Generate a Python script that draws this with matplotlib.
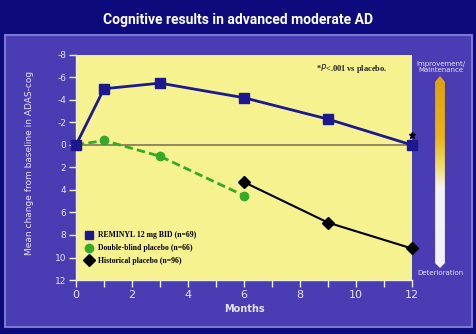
import matplotlib.pyplot as plt
import numpy as np
from matplotlib.patches import Rectangle, Polygon
from matplotlib.lines import Line2D
from matplotlib.colors import LinearSegmentedColormap

# data (months, mean change in ADAS-cog)
reminyl_x = [0, 1, 3, 6, 9, 12]
reminyl_y = [0, -5.0, -5.5, -4.2, -2.3, 0]
dbl_x = [0, 1, 3, 6]
dbl_y = [0, -0.4, 1.0, 4.5]
hist_x = [6, 9, 12]
hist_y = [3.3, 6.9, 9.2]
legend_labels = ['REMINYL 12 mg BID (n=69)', 'Double-blind placebo (n=66)',
                 'Historical placebo (n=96)']
y_ticks = [-8, -6, -4, -2, 0, 2, 4, 6, 8, 10, 12]
x_ticks = [0, 2, 4, 6, 8, 10, 12]

navy = '#0d0b7c'
panel = '#4a3db4'
yellow = '#f7f290'
txt = '#e6e2f6'

W, H = 476, 334
fig = plt.figure(figsize=(W / 100, H / 100), dpi=100)
fig.patch.set_facecolor(navy)


def fx(px):
    return px / W


def fy(py):
    return 1 - py / H


# purple panel with lighter border
fig.patches.append(Rectangle((fx(5), fy(327)), fx(467), (327 - 35) / H,
                             transform=fig.transFigure, facecolor=panel,
                             edgecolor='#7f78d0', linewidth=1.5, zorder=-10))

fig.text(0.5, fy(20), 'Cognitive results in advanced moderate AD', color='white',
         fontsize=10, fontweight='bold', family=['DejaVu Sans Condensed', 'Roboto'],
         fontstretch='condensed', ha='center', va='center')

ax = fig.add_axes([fx(76), fy(280), fx(412 - 76), (280 - 55) / H])
ax.set_facecolor(yellow)
ax.set_xlim(0, 12)
ax.set_ylim(12, -8)

ax.axhline(0, color='#8a7f5c', linewidth=1.3, zorder=1)
ax.plot(reminyl_x, reminyl_y, color='#1c1890', linewidth=2, marker='s',
        markersize=6.5, zorder=4, clip_on=False)
ax.plot(dbl_x, dbl_y, color='#36a82a', linewidth=2, linestyle=(0, (3, 1.5)),
        marker='o', markersize=6, zorder=3, clip_on=False)
ax.plot(hist_x, hist_y, color='black', linewidth=1.5, marker='D',
        markersize=6.5, zorder=3, clip_on=False)
ax.plot([12.0], [-0.9], marker='*', color='black', markersize=5, linestyle='none',
        clip_on=False)

ax.text(0.715, 0.93, r'*$\it{P}$<.001 vs placebo.', transform=ax.transAxes,
        fontsize=6, fontweight='bold', family='Liberation Serif', color='#222222')

handles = [Line2D([], [], color='#1c1890', marker='s', linestyle='none', markersize=6),
           Line2D([], [], color='#36a82a', marker='o', linestyle='none', markersize=6),
           Line2D([], [], color='black', marker='D', linestyle='none', markersize=6)]
ax.legend(handles, legend_labels, loc='lower left', bbox_to_anchor=(0.0, 0.035),
          frameon=False, prop={'family': 'Liberation Serif', 'size': 5.6, 'weight': 'bold'},
          labelspacing=0.62, handletextpad=0.4, handlelength=1.5)

for s in ['top', 'right']:
    ax.spines[s].set_visible(False)
for s in ['left', 'bottom']:
    ax.spines[s].set_color('#f0eed6')
    ax.spines[s].set_linewidth(1)

ax.set_yticks(y_ticks)
ax.set_yticklabels([str(v) for v in y_ticks])
ax.set_xticks(x_ticks)
ax.set_xticks([1, 3, 5, 7, 9, 11], minor=True)
ax.tick_params(axis='y', colors='#f0eed6', labelcolor=txt, labelsize=6.5, length=5,
               width=1, pad=2)
ax.tick_params(axis='x', which='major', colors='#f0eed6', labelcolor=txt, labelsize=8,
               length=5, width=1, pad=2)
ax.tick_params(axis='x', which='minor', colors='#f0eed6', length=5, width=1)
ax.set_xlabel('Months', color=txt, fontsize=7, fontweight='bold', labelpad=3)

fig.text(fx(30), fy(163), 'Mean change from baseline in ADAS-cog', color=txt,
         fontsize=6.5, rotation=90, ha='center', va='center')

# gradient arrow on the right
cax = fig.add_axes([fx(433), fy(268), fx(14), (268 - 76) / H])
cax.set_xlim(0, 1)
cax.set_ylim(0, 1)
cax.axis('off')
grad = np.linspace(0, 1, 256).reshape(-1, 1)
cmap = LinearSegmentedColormap.from_list('g', [(0, '#f4f0fa'), (0.42, '#f6f4f0'),
                                               (0.52, '#f0e070'), (0.68, '#e8b418'),
                                               (1, '#e0a010')])
im = cax.imshow(grad, cmap=cmap, aspect='auto', extent=[0, 1, 0, 1], origin='lower')
arrow = Polygon([(0.15, 0.025), (0.5, 0.0), (0.85, 0.025), (0.85, 0.97), (0.5, 1.0),
                 (0.15, 0.97)], closed=True, transform=cax.transData,
                facecolor='none', edgecolor='none')
cax.add_patch(arrow)
im.set_clip_path(arrow)

fig.text(fx(441), fy(67), 'Improvement/\nMaintenance', color=txt, fontsize=5,
         ha='center', va='center', linespacing=1.1)
fig.text(fx(441), fy(273), 'Deterioration', color=txt, fontsize=5,
         ha='center', va='center')

fig.savefig('out.png', dpi=100, facecolor=navy)
